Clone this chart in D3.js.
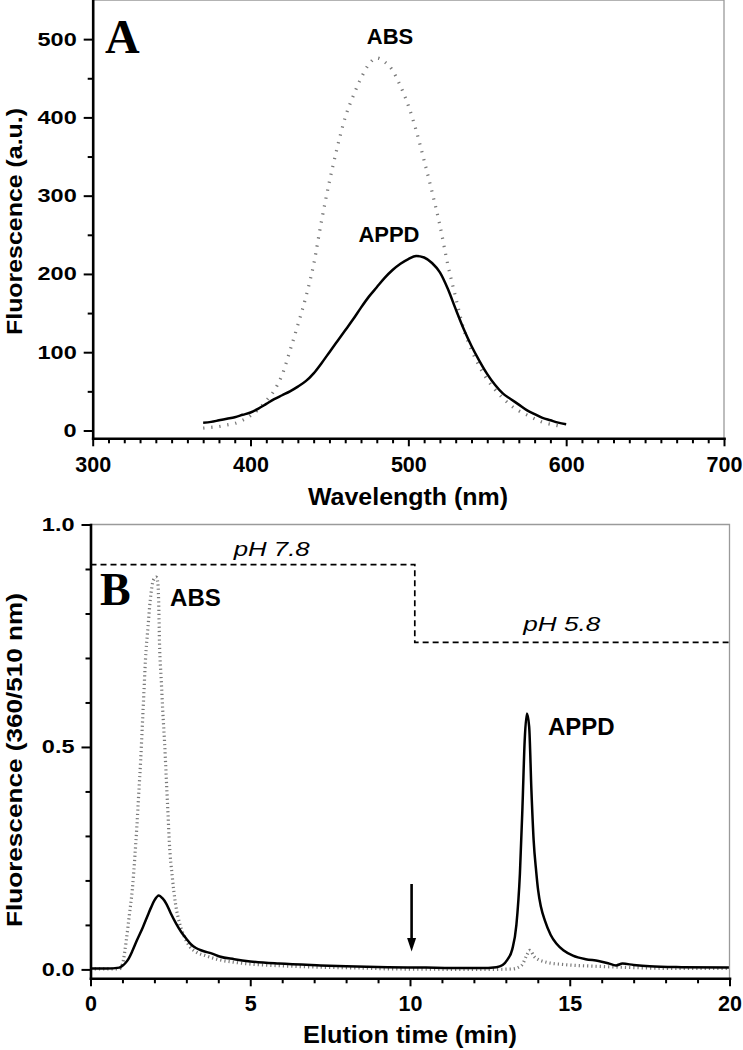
<!DOCTYPE html>
<html><head><meta charset="utf-8">
<script src="https://cdn.jsdelivr.net/npm/d3@7"></script>
<style>body{margin:0;background:#fff} svg{display:block}</style>
</head><body>
<svg id="chart" width="743" height="1050"></svg>
<script>
// ---------- Panel A: fluorescence spectra ----------
const wavelengthABS = [370,375,380,385,390,395,400,405,410,415,420,425,430,435,440,445,450,455,460,465,470,475,480,485,490,495,500,505,510,515,520,525,530,535,540,545,550,555,560,565,570,575,580,585,590,595,597];
const absSpectrum   = [3,4,5,7,9,13,19,27,38,51,71,102,135,170,212,268,318,362,400,427,450,468,476,471,460,440,415,383,345,305,262,212,170,130,103,82,65,52,41,32,25,20,15,10.5,8,6,5];
const wavelengthAPPD = [370,375,380,385,390,395,400,405,410,415,420,425,430,435,440,445,450,455,460,465,470,475,480,485,490,495,500,505,510,515,520,525,530,535,540,545,550,555,560,565,570,575,580,585,590,595,600];
const appdSpectrum   = [10,11,13,15,17,20,23,28,34,40,45,50,56,63,73,86,100,114,128,142,157,171,183,195,205,213,219,223,221,214,202,181,155,130,108,89,72,58,47,40,33,26,21,16,13,10,8];
const aXTicks = [300,400,500,600,700];
const aYTicks = [0,100,200,300,400,500];

// ---------- Panel B: chromatograms ----------
const timeAPPD = [0,0.5,0.9,1.0,1.1,1.2,1.32,1.45,1.64,1.8,1.9,2.0,2.14,2.25,2.37,2.5,2.68,2.85,3.0,3.15,3.3,3.5,3.83,4.04,4.5,5.0,5.9,7.2,8.0,9.3,10.5,11.3,12.2,12.7,12.9,13.05,13.2,13.33,13.44,13.52,13.59,13.66,13.73,13.8,13.87,13.95,14.01,14.1,14.22,14.4,14.58,14.8,15.1,15.5,15.9,16.2,16.45,16.65,17.0,17.5,18.5,20];
const appdChrom = [0.002,0.002,0.004,0.008,0.015,0.025,0.043,0.065,0.095,0.123,0.14,0.155,0.166,0.16,0.148,0.128,0.103,0.083,0.069,0.056,0.048,0.042,0.035,0.029,0.023,0.018,0.013,0.009,0.007,0.005,0.004,0.003,0.003,0.005,0.01,0.022,0.045,0.10,0.215,0.365,0.515,0.575,0.545,0.403,0.29,0.22,0.178,0.14,0.11,0.078,0.058,0.043,0.031,0.023,0.019,0.014,0.009,0.013,0.010,0.007,0.005,0.004];
const timeABS = [0,0.9,1.0,1.12,1.22,1.31,1.38,1.45,1.51,1.57,1.62,1.67,1.72,1.8,1.87,1.97,2.06,2.11,2.14,2.16,2.21,2.26,2.32,2.37,2.42,2.47,2.56,2.66,2.79,2.94,3.1,3.31,3.6,4.0,4.5,5.0,6.0,7.2,8.5,9.5,12.5,13.2,13.49,13.65,13.75,13.9,14.27,14.8,15.84,17.0,18.5,20];
const absChrom = [0.001,0.001,0.012,0.065,0.125,0.18,0.245,0.32,0.395,0.47,0.545,0.62,0.695,0.77,0.83,0.875,0.882,0.867,0.807,0.733,0.657,0.583,0.508,0.433,0.358,0.283,0.208,0.148,0.103,0.073,0.052,0.039,0.031,0.022,0.016,0.012,0.008,0.005,0.003,0.001,0.0,0.001,0.009,0.031,0.043,0.028,0.016,0.011,0.007,0.004,0.002,0.002];
const phTime  = [0,10.15,10.15,20];
const phLevel = [0.91,0.91,0.735,0.735];
const bXTicks = [0,5,10,15,20];
const bYTicks = [0,0.5,1.0];
const arrowTime = 10.05, arrowFrom = 0.192, arrowTo = 0.040;

// ---------- drawing ----------
const svg = d3.select('#chart');
svg.append('rect').attr('width',743).attr('height',1050).attr('fill','#fff');
const SANS = '"Liberation Sans", Arial, Helvetica, sans-serif';
const SERIF = '"Liberation Serif", "Times New Roman", serif';

function stretch(sel, k) {
  sel.each(function(){
    const w = this.getComputedTextLength();
    this.setAttribute('textLength', (w*k).toFixed(2));
    this.setAttribute('lengthAdjust','spacingAndGlyphs');
  });
}
function fitText(sel, w) {
  sel.attr('textLength', w).attr('lengthAdjust','spacingAndGlyphs');
}
function range(a, b, s, skip) {
  const out = [];
  for (let v = a; v <= b + 1e-9; v += s) {
    const r = Math.round(v*1000)/1000;
    if (!skip.some(m => Math.abs(m - r) < 1e-6)) out.push(r);
  }
  return out;
}

function panel(x, y, xMajor, xMinor, yMajor, yMinor, yFmt, xPad, yPad) {
  const [x0, x1] = x.range();
  const [y0, y1] = y.range();
  const g = svg.append('g');
  g.append('path').attr('d', `M${x0},${y1}H${x1}V${y0}`)
    .attr('fill','none').attr('stroke','#9a9a9a').attr('stroke-width',1.3);
  const gxm = g.append('g').attr('transform',`translate(0,${y0})`)
    .call(d3.axisBottom(x).tickValues(xMinor).tickSize(5).tickFormat(''));
  const gym = g.append('g').attr('transform',`translate(${x0},0)`)
    .call(d3.axisLeft(y).tickValues(yMinor).tickSize(5).tickFormat(''));
  [gxm, gym].forEach(a => { a.select('.domain').remove(); a.selectAll('line').attr('stroke','#000').attr('stroke-width',2); });
  const gx = g.append('g').attr('transform',`translate(0,${y0})`)
    .call(d3.axisBottom(x).tickValues(xMajor).tickSize(8).tickSizeOuter(0).tickPadding(xPad).tickFormat(d3.format('d')));
  const gy = g.append('g').attr('transform',`translate(${x0},0)`)
    .call(d3.axisLeft(y).tickValues(yMajor).tickSize(9).tickSizeOuter(0).tickPadding(yPad).tickFormat(yFmt));
  [gx, gy].forEach(a => {
    a.select('.domain').attr('stroke','#000').attr('stroke-width',2.6).attr('stroke-linecap','square');
    a.selectAll('line').attr('stroke','#000').attr('stroke-width',2);
    a.selectAll('text').attr('fill','#000').attr('font-family',SANS).attr('font-weight','bold');
  });
  gx.selectAll('text').attr('font-size',21.5);
  gy.selectAll('text').attr('font-size',18.5).call(stretch, 1.27);
  return g;
}

const xA = d3.scaleLinear([300,700],[92.7,724]);
const yA = d3.scaleLinear([-10,550],[438.3,0]);
const xB = d3.scaleLinear([0,20],[90.5,729.5]);
const yB = d3.scaleLinear([-0.02,1.0],[978.3,524.5]);

// ---- Panel A curves
const lineA = d3.line().x(d=>xA(d[0])).y(d=>yA(d[1])).curve(d3.curveMonotoneX);
svg.append('path').datum(d3.zip(wavelengthABS, absSpectrum)).attr('d', lineA)
  .attr('fill','none').attr('stroke','#7a7a7a').attr('stroke-width',3.2).attr('stroke-dasharray','1.3,6.8');
svg.append('path').datum(d3.zip(wavelengthAPPD, appdSpectrum)).attr('d', lineA)
  .attr('fill','none').attr('stroke','#000').attr('stroke-width',2.5).attr('stroke-linejoin','round');

panel(xA, yA, aXTicks, range(300,700,10,aXTicks), aYTicks, range(50,450,100,[]), d3.format('d'), 10, 7);

// ---- Panel B curves
const lineB = d3.line().x(d=>xB(d[0])).y(d=>yB(d[1])).curve(d3.curveMonotoneX);
svg.append('path').datum(d3.zip(phTime, phLevel)).attr('d', d3.line().x(d=>xB(d[0])).y(d=>yB(d[1])))
  .attr('fill','none').attr('stroke','#000').attr('stroke-width',1.7).attr('stroke-dasharray','6,4');
svg.append('path').datum(d3.zip(timeABS, absChrom)).attr('d', lineB)
  .attr('fill','none').attr('stroke','#7a7a7a').attr('stroke-width',3.2).attr('stroke-dasharray','1.2,3');
svg.append('path').datum(d3.zip(timeAPPD, appdChrom)).attr('d', lineB)
  .attr('fill','none').attr('stroke','#000').attr('stroke-width',2.5).attr('stroke-linejoin','round');

panel(xB, yB, bXTicks, range(0,20,1,bXTicks), bYTicks, range(0.1,0.9,0.1,[0.5]), d3.format('.1f'), 9, 7);

// arrow
const ax = xB(arrowTime), ayTop = yB(arrowFrom), ayTip = yB(arrowTo);
svg.append('line').attr('x1',ax).attr('x2',ax).attr('y1',ayTop).attr('y2',ayTip-10)
  .attr('stroke','#000').attr('stroke-width',2.6);
svg.append('path').attr('d',`M${ax-4.5},${ayTip-13.5}L${ax+4.5},${ayTip-13.5}L${ax},${ayTip}Z`).attr('fill','#000');

// ---- texts
function label(txt, px, py, opts) {
  const t = svg.append('text').attr('x',px).attr('y',py).text(txt)
    .attr('font-family', opts.family || SANS).attr('font-size', opts.size)
    .attr('font-weight', opts.weight || 'bold').attr('font-style', opts.style || 'normal')
    .attr('text-anchor', opts.anchor || 'start').attr('fill','#000');
  if (opts.width) fitText(t, opts.width);
  return t;
}
label('A', xA(307.8), yA(482.3), {family:SERIF, size:48});
label('ABS', xA(488.4), yA(493.8), {size:22, anchor:'middle'});
label('APPD', xA(487.7), yA(240.8), {size:22, anchor:'middle'});
label('B', xB(0.3), yB(0.819), {family:SERIF, size:46});
label('ABS', xB(2.49), yB(0.8157), {size:24});
label('APPD', xB(14.32), yB(0.527), {size:24});
label('pH 7.8', xB(5.67), yB(0.929), {size:21, weight:'normal', style:'italic', anchor:'middle', width:76});
label('pH 5.8', xB(14.75), yB(0.7595), {size:21, weight:'normal', style:'italic', anchor:'middle', width:77});

label('Wavelength (nm)', 408, 505, {size:24, anchor:'middle', width:200});
label('Elution time (min)', 410, 1043, {size:24, anchor:'middle', width:214});
svg.append('text').attr('transform','translate(22,221.5) rotate(-90)').text('Fluorescence (a.u.)')
  .attr('font-family',SANS).attr('font-size',22.5).attr('font-weight','bold').attr('text-anchor','middle')
  .call(fitText, 227);
svg.append('text').attr('transform','translate(22,760) rotate(-90)').text('Fluorescence (360/510 nm)')
  .attr('font-family',SANS).attr('font-size',22.5).attr('font-weight','bold').attr('text-anchor','middle')
  .call(fitText, 334);
</script>
</body></html>
